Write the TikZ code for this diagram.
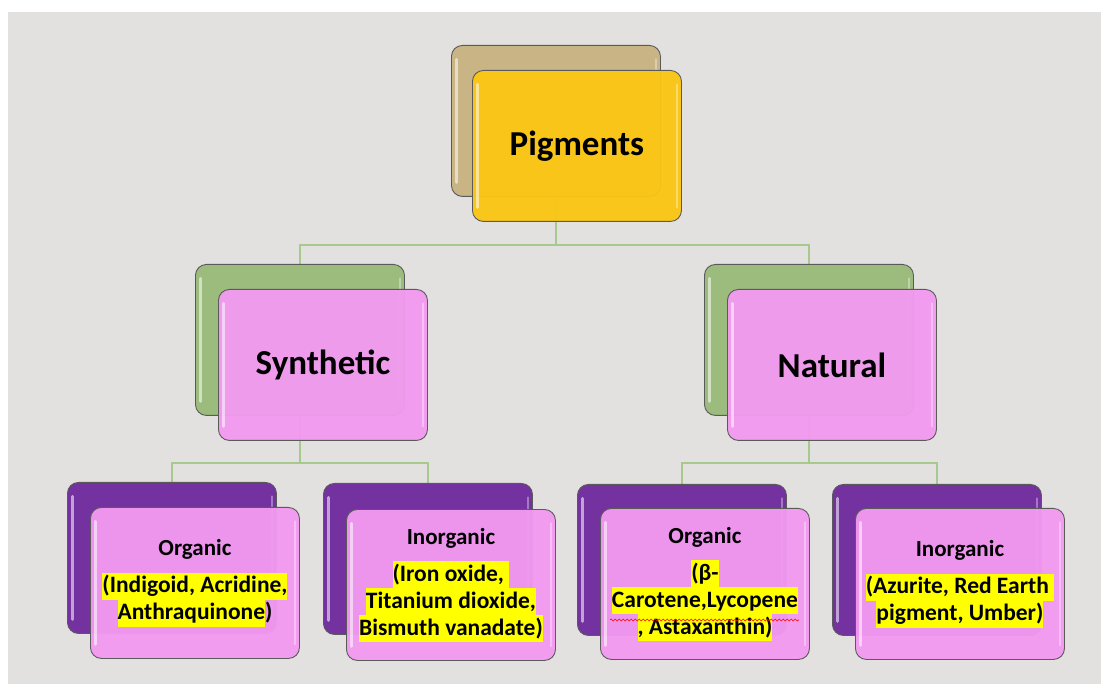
\documentclass[tikz,border=0pt]{standalone}
\usepackage{fontspec}
\setmainfont{Carlito}
\usetikzlibrary{backgrounds,decorations.pathmorphing}
\definecolor{bggray}{HTML}{E2E1DF}
\definecolor{tanbox}{HTML}{C9B486}
\definecolor{goldbox}{HTML}{FAC614}
\definecolor{greenbox}{HTML}{9CBC7E}
\definecolor{pinkbox}{HTML}{F29AF0}
\definecolor{purplebox}{HTML}{7432A0}
\definecolor{conncol}{HTML}{A6C98E}
\definecolor{boxline}{HTML}{5A5A5A}
\definecolor{hly}{HTML}{FFFF00}
\newcommand\yhl[1]{{\setlength{\fboxsep}{0pt}\colorbox{hly}{\rule[-7pt]{0pt}{27pt}#1}}}
\newcommand\ttl[1]{{\fontsize{23}{27}\selectfont #1}}
\begin{document}
\begin{tikzpicture}[x=1pt,y=-1pt,
  box/.style={rounded corners=11pt, draw=boxline, line width=0.9pt, inner sep=0pt,
    anchor=north west, minimum width=209pt, minimum height=151pt,
    path picture={
      \draw[white,opacity=0.55,line width=3pt,line cap=round]
        ([xshift=5pt,yshift=-14pt]path picture bounding box.north west)
        -- ([xshift=5pt,yshift=14pt]path picture bounding box.south west);
      \draw[white,opacity=0.35,line width=2pt,line cap=round]
        ([xshift=-4pt,yshift=-14pt]path picture bounding box.north east)
        -- ([xshift=-4pt,yshift=14pt]path picture bounding box.south east);
    }},
  backbox/.style={box},
  frontbox/.style={box, fill opacity=0.96, text opacity=1, align=center,
    font=\bfseries\fontsize{23.5}{27}\selectfont},
  bigtext/.style={font=\bfseries\fontsize{35}{40}\selectfont},
  conn/.style={draw=conncol, line width=1.3pt}]
\useasboundingbox (0,0) rectangle (1101,684);
% level 0
\node[backbox, fill=tanbox] (pigB) at (451,45) {};
\node[frontbox, bigtext, fill=goldbox] (pigF) at (472,70) {Pigments};
% level 1
\node[backbox, fill=greenbox] (synB) at (195,264) {};
\node[frontbox, bigtext, fill=pinkbox] (synF) at (218,289) {\raisebox{-4pt}{Synthetic}};
\node[backbox, fill=greenbox] (natB) at (704,264) {};
\node[frontbox, bigtext, fill=pinkbox] (natF) at (727,289) {\raisebox{-2pt}{Natural}};
% level 2
\node[backbox, fill=purplebox] (orgSB) at (67,482) {};
\node[frontbox, fill=pinkbox] (orgSF) at (90,507)
  {\ttl{Organic}\\[10pt]\yhl{(Indigoid, Acridine,}\\\yhl{Anthraquinone})};
\node[backbox, fill=purplebox] (inoSB) at (323,483) {};
\node[frontbox, fill=pinkbox] (inoSF) at (346,509)
  {\ttl{Inorganic}\\[10pt]\yhl{(Iron oxide,\ }\\\yhl{Titanium dioxide,}\\\yhl{Bismuth vanadate)}};
\node[backbox, fill=purplebox] (orgNB) at (577,484) {};
\node[frontbox, fill=pinkbox] (orgNF) at (600,508)
  {\ttl{Organic}\\[10pt]\yhl{(β-}\\\yhl{Carotene,Lycopene}\\\yhl{, Astaxanthin)}};
\node[backbox, fill=purplebox] (inoNB) at (832,484) {};
\node[frontbox, fill=pinkbox] (inoNF) at (855,508)
  {\ttl{Inorganic}\\[10pt]\yhl{(Azurite, Red Earth\ }\\\yhl{pigment, Umber)}};
% spell-check underline
\draw[red, line width=0.6pt, decorate, decoration={snake, amplitude=0.9pt, segment length=4pt}]
  (610,620) -- (799,620);
\begin{scope}[on background layer]
  \fill[white] (0,0) rectangle (1101,684);
  \fill[bggray] (8,12) rectangle (1101,684);
  \draw[conn] (pigB.south) -- ++(0,48) -| (synB.north);
  \draw[conn] (pigB.south) ++(0,48) -| (natB.north);
  \draw[conn] (synB.south) -- ++(0,47) -| (orgSB.north);
  \draw[conn] (synB.south) ++(0,47) -| (inoSB.north);
  \draw[conn] (natB.south) -- ++(0,47) -| (orgNB.north);
  \draw[conn] (natB.south) ++(0,47) -| (inoNB.north);
\end{scope}
\end{tikzpicture}
\end{document}
